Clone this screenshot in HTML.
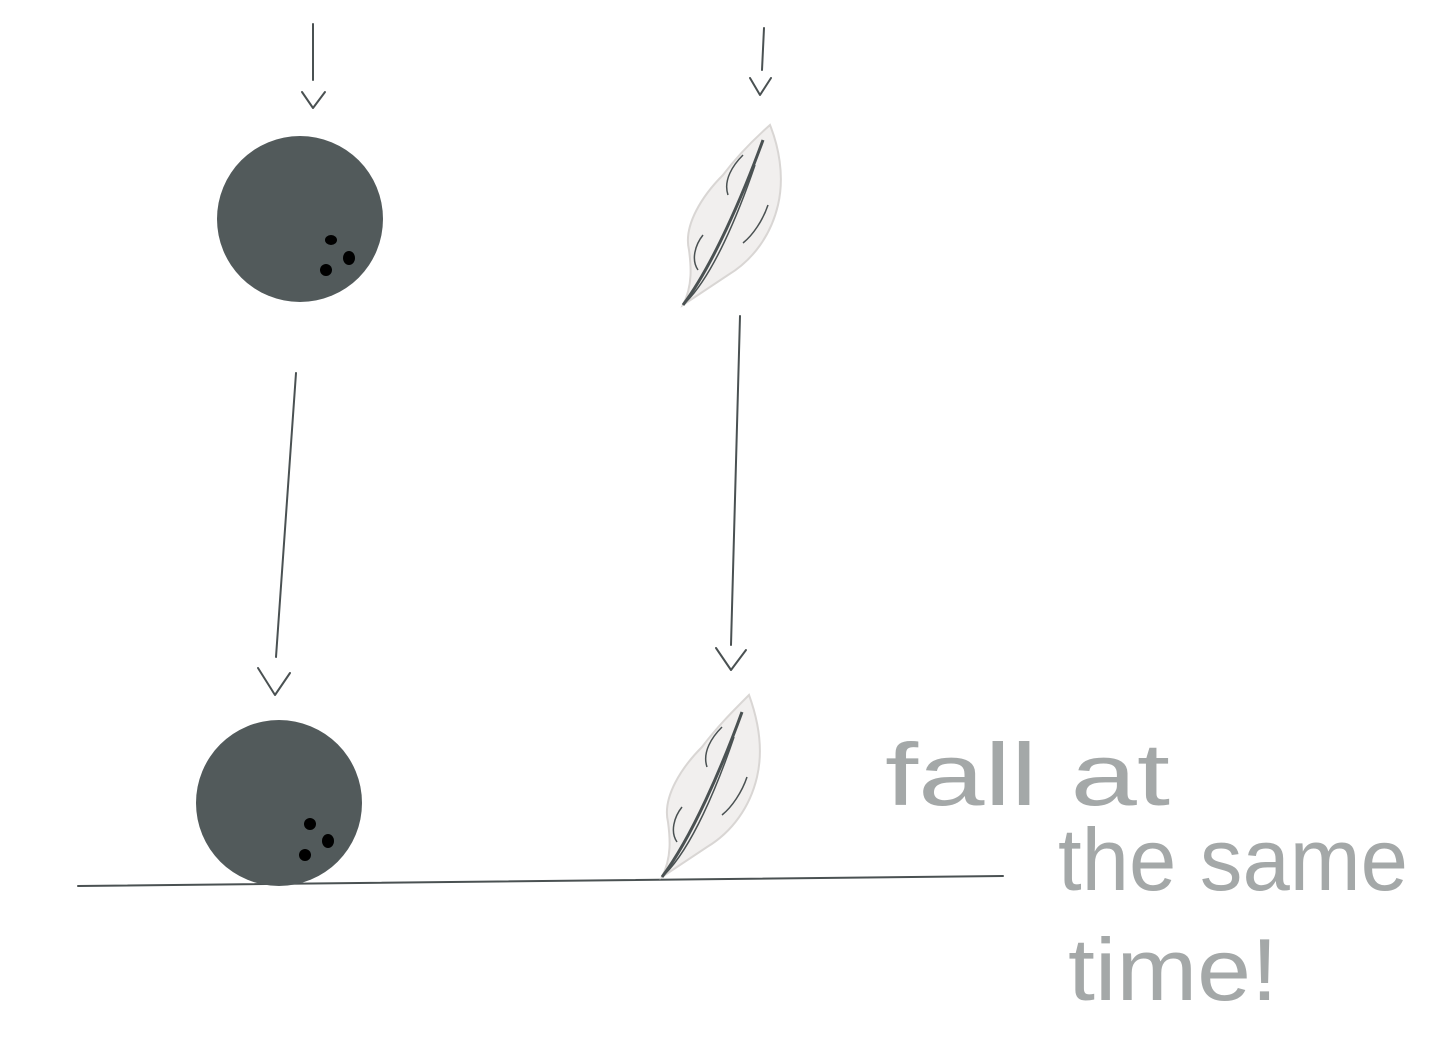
<!DOCTYPE html>
<html>
<head>
<meta charset="utf-8">
<style>
html,body{margin:0;padding:0;background:#fff;}
svg{display:block;}
</style>
</head>
<body>
<svg width="1430" height="1054" viewBox="0 0 1430 1054" xmlns="http://www.w3.org/2000/svg">
  <rect width="1430" height="1054" fill="#ffffff"/>
  <g stroke="#4a5152" stroke-width="2" fill="none" stroke-linecap="round" stroke-linejoin="round">
    <g>
      <line x1="313" y1="24" x2="313" y2="80"/>
      <polyline points="302,92 313,108 325,92"/>
    </g>
    <g>
      <line x1="764" y1="28" x2="762" y2="70"/>
      <polyline points="750,78 760,95 771,78"/>
    </g>
    <g>
      <line x1="296" y1="373" x2="276" y2="657"/>
      <polyline points="258,668 275,695 290,673"/>
    </g>
    <g>
      <line x1="740" y1="316" x2="731" y2="645"/>
      <polyline points="716,648 731,670 746,650"/>
    </g>
    <line x1="78" y1="886" x2="1003" y2="876"/>
  </g>

  <g>
    <circle cx="300" cy="219" r="83" fill="#525a5b"/>
    <ellipse cx="331" cy="240" rx="6" ry="5" fill="#000"/>
    <ellipse cx="349" cy="258" rx="6" ry="7" fill="#000"/>
    <ellipse cx="326" cy="270" rx="6" ry="6" fill="#000"/>
  </g>
  <g>
    <circle cx="279" cy="803" r="83" fill="#525a5b"/>
    <ellipse cx="310" cy="824" rx="6" ry="6" fill="#000"/>
    <ellipse cx="328" cy="841" rx="6" ry="7" fill="#000"/>
    <ellipse cx="305" cy="855" rx="6" ry="6" fill="#000"/>
  </g>

  <g transform="translate(683,305)">
    <path d="M0,0 C10,-20 8,-40 6,-55 C0,-80 20,-110 40,-130 C55,-150 70,-165 87,-180 C95,-160 102,-130 95,-100 C88,-70 70,-45 45,-30 C30,-20 15,-10 0,0 Z" fill="#f1efee" stroke="#d9d6d4" stroke-width="2"/>
    <path d="M0,0 C30,-40 60,-110 80,-165" stroke="#4a5152" stroke-width="3" fill="none"/>
    <path d="M3,-3 C30,-30 55,-90 72,-140 M15,-35 C8,-45 12,-60 20,-70 M45,-110 C40,-125 50,-140 60,-150 M85,-100 C80,-85 70,-70 60,-62" stroke="#4a5152" stroke-width="1.5" fill="none"/>
  </g>
  <g transform="translate(662,877)">
    <path d="M0,0 C10,-20 8,-40 6,-55 C0,-80 20,-110 40,-130 C55,-150 70,-165 87,-182 C95,-160 102,-130 95,-100 C88,-70 70,-45 45,-30 C30,-20 15,-10 0,0 Z" fill="#f1efee" stroke="#d9d6d4" stroke-width="2"/>
    <path d="M0,0 C30,-40 60,-110 80,-165" stroke="#4a5152" stroke-width="3" fill="none"/>
    <path d="M3,-3 C30,-30 55,-90 72,-140 M15,-35 C8,-45 12,-60 20,-70 M45,-110 C40,-125 50,-140 60,-150 M85,-100 C80,-85 70,-70 60,-62" stroke="#4a5152" stroke-width="1.5" fill="none"/>
  </g>

  <g font-family="'Liberation Sans', sans-serif" font-size="88" fill="#4a5152" fill-opacity="0.5">
    <text x="885" y="805" textLength="285" lengthAdjust="spacingAndGlyphs">fall at</text>
    <text x="1058" y="890" textLength="350" lengthAdjust="spacingAndGlyphs">the same</text>
    <text x="1068" y="1000" textLength="210" lengthAdjust="spacingAndGlyphs">time!</text>
  </g>
</svg>
</body>
</html>
